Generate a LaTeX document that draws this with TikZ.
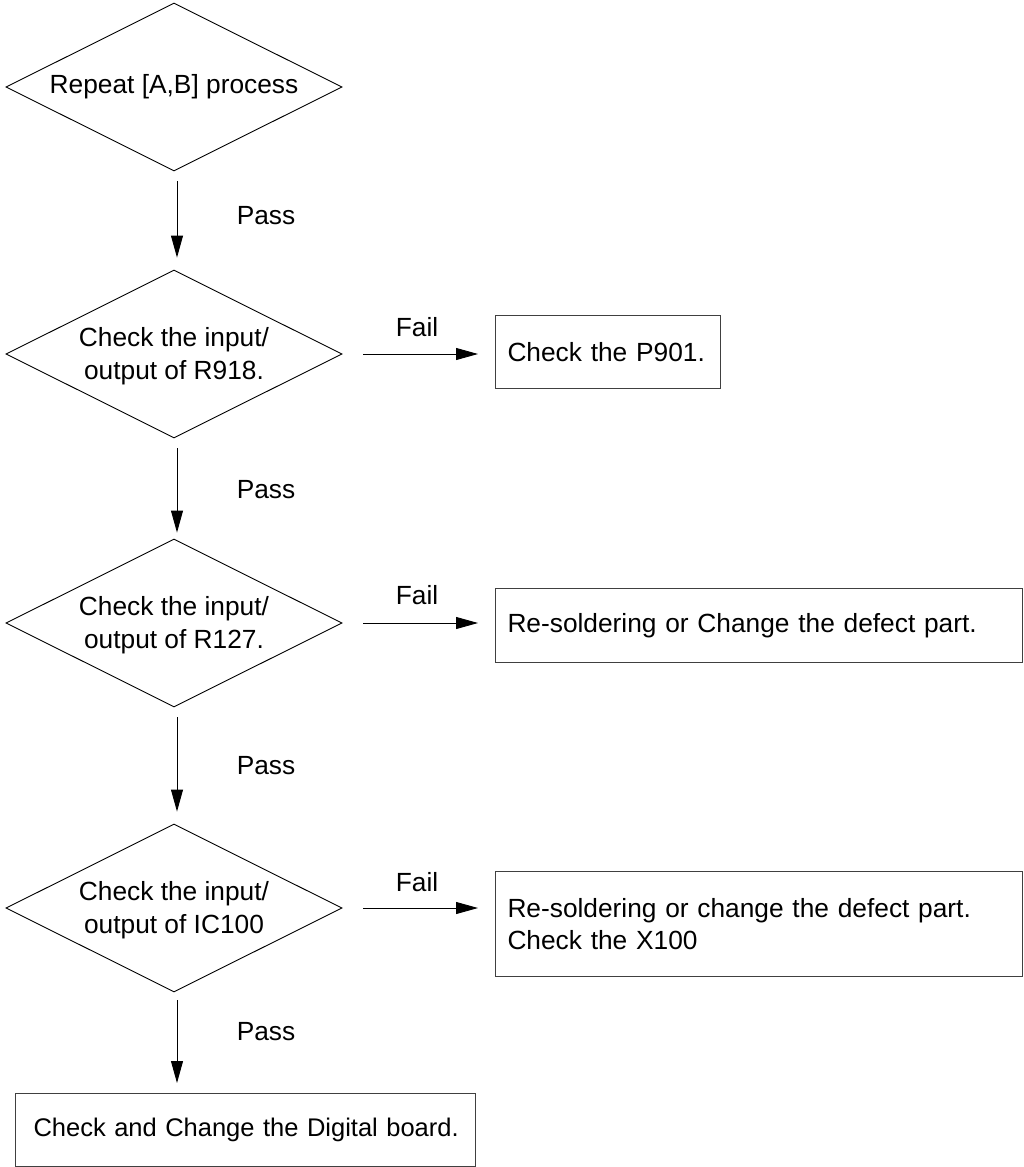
\documentclass[tikz,border=0pt]{standalone}
\usepackage{fontspec}
\setmainfont{Liberation Sans}
\usetikzlibrary{shapes.geometric,arrows.meta}
\begin{document}
\begin{tikzpicture}[x=1pt,y=-1pt,
  txt/.style={font=\fontsize{26.3}{32.5}\selectfont, inner sep=0pt, align=center},
  dia/.style={draw=black, line width=0.9pt, diamond, minimum width=336pt, minimum height=168pt, inner sep=0pt},
  boxnode/.style={draw=black!75, line width=1pt, font=\fontsize{26.3}{32}\selectfont, align=left, inner xsep=12pt, inner ysep=0pt, anchor=north west},
  arr/.style={draw=black, line width=0.9pt, -{Triangle[length=22pt,width=12pt]}},
  lab/.style={font=\fontsize{26.3}{32}\selectfont, inner sep=0pt}
]
\useasboundingbox (0,0) rectangle (1023,1167);

% diamonds
\node[dia] (d1) at (174,87) {};
\node[txt] (t1) at (174,87) {Repeat [A,B] process};
\node[dia] (d2) at (174,354) {};
\node[txt] (t2) at (174,356) {Check the input/\\output of R918.};
\node[dia] (d3) at (174,623) {};
\node[txt] (t3) at (174,625) {Check the input/\\output of R127.};
\node[dia] (d4) at (174,908) {};
\node[txt] (t4) at (174,910) {Check the input/\\output of IC100};

% boxes
\node[boxnode, text width=201pt, minimum height=73pt] (b1) at (495,315) {Check the P901.};
\node[boxnode, text width=503pt, minimum height=74pt] (b2) at (495,588) {Re-soldering or Change the defect part.};
\node[boxnode, text width=503pt, minimum height=105pt] (b3) at (495,871) {Re-soldering or change the defect part.\\Check the X100};
\node[boxnode, minimum height=73pt, inner xsep=18pt, text width=424pt, font=\fontsize{25.5}{32}\selectfont] (b4) at (15,1093) {\mbox{Check and Change the Digital board.}};

% pass arrows
\draw[arr] ([xshift=3pt,yshift=-10pt]d1.south) -- ([xshift=3pt,yshift=12pt]d2.north);
\draw[arr] ([xshift=3pt,yshift=-10pt]d2.south) -- ([xshift=3pt,yshift=6pt]d3.north);
\draw[arr] ([xshift=3pt,yshift=-10pt]d3.south) -- ([xshift=3pt,yshift=12pt]d4.north);
\coordinate (c4) at (177,1083);
\draw[arr] ([xshift=3pt,yshift=-8pt]d4.south) -- (c4);

\node[lab] (p1) at (266,216) {Pass};
\node[lab] (p2) at (266,490) {Pass};
\node[lab] (p3) at (266,766) {Pass};
\node[lab] (p4) at (266,1032) {Pass};

% fail arrows
\draw[arr] ([xshift=21pt]d2.east) -- ([xshift=-17pt]b1.west |- d2.east);
\draw[arr] ([xshift=21pt]d3.east) -- ([xshift=-17pt]b2.west |- d3.east);
\draw[arr] ([xshift=21pt]d4.east) -- ([xshift=-17pt]b3.west |- d4.east);

\node[lab] (f1) at (417,327) {Fail};
\node[lab] (f2) at (417,595) {Fail};
\node[lab] (f3) at (417,882) {Fail};
\end{tikzpicture}
\end{document}
